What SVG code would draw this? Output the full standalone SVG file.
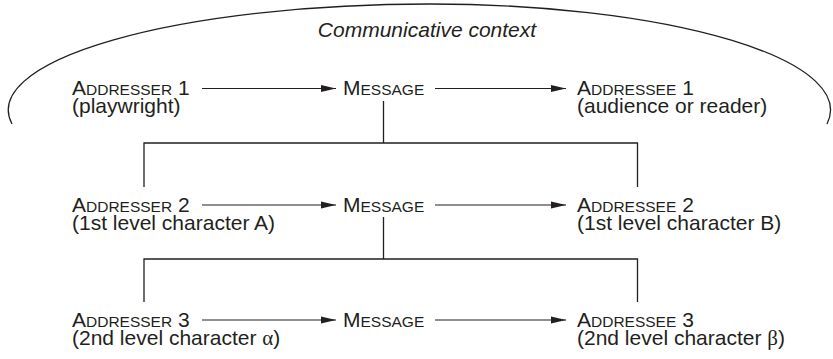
<svg xmlns="http://www.w3.org/2000/svg" width="833" height="359" viewBox="0 0 833 359">
  <style>
    text { font-family: "Liberation Sans", Arial, sans-serif; font-size: 21px; fill: #231f20; }
    .sc { font-size: 15.5px; }
    .gr { font-family: "Liberation Serif", "Times New Roman", serif; }
    .ctx { font-style: italic; font-size: 21px; }
    .ln { fill: none; stroke: #231f20; stroke-width: 1.3; }
    .arr { fill: none; stroke: #231f20; stroke-width: 1.2; marker-end: url(#ah); }
  </style>
  <defs>
    <marker id="ah" markerUnits="userSpaceOnUse" markerWidth="16" markerHeight="8" refX="15" refY="4" orient="auto">
      <path d="M0,0.5 L15,4 L0,7.5 z" fill="#231f20"/>
    </marker>
  </defs>

  <g id="context">
    <path class="ln" d="M12,124 A421,106 0 0 1 430,4 A400,106 0 0 1 827,124"/>
    <text class="ctx" x="427" y="37" text-anchor="middle">Communicative context</text>
  </g>

  <g id="connectors">
    <line class="arr" x1="202" y1="88.5" x2="336" y2="88.5"/>
    <line class="arr" x1="435" y1="88.5" x2="566" y2="88.5"/>
    <line class="arr" x1="202" y1="205" x2="336" y2="205"/>
    <line class="arr" x1="435" y1="205" x2="566" y2="205"/>
    <line class="arr" x1="202" y1="320" x2="336" y2="320"/>
    <line class="arr" x1="435" y1="320" x2="566" y2="320"/>
    <path class="ln" d="M383.5,101 V143 M144,187 V143 H637.5 V187"/>
    <path class="ln" d="M383.5,217 V259 M144,302 V259 H637.5 V302"/>
  </g>

  <g id="addresser1">
    <text x="72" y="95">A<tspan class="sc">DDRESSER</tspan> 1</text>
    <text x="72" y="113">(playwright)</text>
  </g>
  <g id="message1">
    <text x="343" y="95">M<tspan class="sc">ESSAGE</tspan></text>
  </g>
  <g id="addressee1">
    <text x="577" y="95">A<tspan class="sc">DDRESSEE</tspan> 1</text>
    <text x="577" y="113">(audience or reader)</text>
  </g>

  <g id="addresser2">
    <text x="72" y="212">A<tspan class="sc">DDRESSER</tspan> 2</text>
    <text x="72" y="230">(1st level character A)</text>
  </g>
  <g id="message2">
    <text x="343" y="212">M<tspan class="sc">ESSAGE</tspan></text>
  </g>
  <g id="addressee2">
    <text x="577" y="212">A<tspan class="sc">DDRESSEE</tspan> 2</text>
    <text x="577" y="230">(1st level character B)</text>
  </g>

  <g id="addresser3">
    <text x="72" y="327">A<tspan class="sc">DDRESSER</tspan> 3</text>
    <text x="72" y="345">(2nd level character <tspan class="gr">α</tspan>)</text>
  </g>
  <g id="message3">
    <text x="343" y="327">M<tspan class="sc">ESSAGE</tspan></text>
  </g>
  <g id="addressee3">
    <text x="577" y="327">A<tspan class="sc">DDRESSEE</tspan> 3</text>
    <text x="577" y="345">(2nd level character <tspan class="gr">β</tspan>)</text>
  </g>
</svg>
